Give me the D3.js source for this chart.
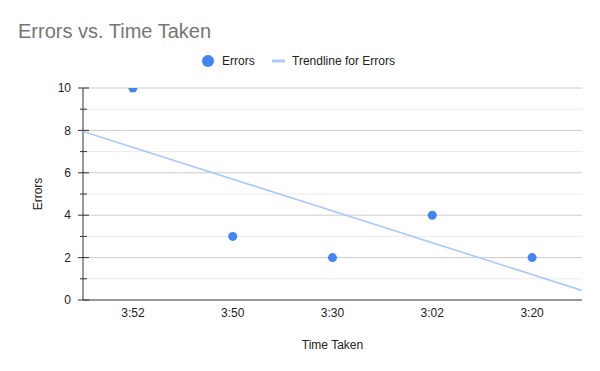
<!DOCTYPE html>
<html>
<head>
<meta charset="utf-8">
<script src="https://cdn.jsdelivr.net/npm/d3@7"></script>
<style>
  body { margin: 0; background: #fff; }
  svg { display: block; font-family: Arial, "Liberation Sans", sans-serif; }
</style>
</head>
<body>
<div id="chart"></div>
<script>
// data
const categories = ["3:52", "3:50", "3:30", "3:02", "3:20"];
const errors = [10, 3, 2, 4, 2];
const yTicks = [0, 2, 4, 6, 8, 10];

const W = 600, H = 371;
const margin = { top: 88, right: 18, bottom: 71, left: 83 };
const width = W - margin.left - margin.right;
const height = H - margin.top - margin.bottom;

const svg = d3.select("#chart").append("svg")
    .attr("width", W)
    .attr("height", H);

svg.append("rect").attr("width", W).attr("height", H).attr("fill", "#fff");

svg.append("defs").append("clipPath")
    .attr("id", "plot-clip")
    .append("rect")
    .attr("width", width)
    .attr("height", height);

const g = svg.append("g")
    .attr("transform", `translate(${margin.left},${margin.top})`);

const x = d3.scaleBand()
    .domain(categories)
    .range([0, width]);

const y = d3.scaleLinear()
    .domain([0, 10])
    .range([height, 0]);

// minor gridlines
const minor = d3.range(1, 10, 2);
g.selectAll(".minor")
    .data(minor)
    .join("line")
    .attr("x1", 0).attr("x2", width)
    .attr("y1", d => y(d)).attr("y2", d => y(d))
    .attr("stroke", "#ebebeb");

// major gridlines
g.selectAll(".major")
    .data(yTicks.filter(d => d > 0))
    .join("line")
    .attr("x1", 0).attr("x2", width)
    .attr("y1", d => y(d)).attr("y2", d => y(d))
    .attr("stroke", "#cccccc");

// y axis ticks (major + minor)
g.selectAll(".ytick-minor")
    .data(minor)
    .join("line")
    .attr("x1", -3).attr("x2", 4)
    .attr("y1", d => y(d)).attr("y2", d => y(d))
    .attr("stroke", "#333");

g.selectAll(".ytick")
    .data(yTicks)
    .join("line")
    .attr("x1", -5).attr("x2", 6)
    .attr("y1", d => y(d)).attr("y2", d => y(d))
    .attr("stroke", "#333");

g.selectAll(".ylabel")
    .data(yTicks)
    .join("text")
    .attr("x", -12)
    .attr("y", d => y(d))
    .attr("dy", "0.35em")
    .attr("text-anchor", "end")
    .attr("font-size", "12px")
    .attr("fill", "#222")
    .text(d => d);

// axis lines
g.append("line")
    .attr("x1", 0).attr("x2", 0)
    .attr("y1", 0).attr("y2", height)
    .attr("stroke", "#333");
g.append("line")
    .attr("x1", 0).attr("x2", width)
    .attr("y1", height).attr("y2", height)
    .attr("stroke", "#333");

// x labels
g.selectAll(".xlabel")
    .data(categories)
    .join("text")
    .attr("x", d => x(d) + x.bandwidth() / 2)
    .attr("y", height + 17)
    .attr("text-anchor", "middle")
    .attr("font-size", "12px")
    .attr("fill", "#222")
    .text(d => d);

const plot = g.append("g").attr("clip-path", "url(#plot-clip)");

// linear trendline over category index
const n = errors.length;
const mx = d3.mean(errors, (d, i) => i);
const my = d3.mean(errors);
const slope = d3.sum(errors, (d, i) => (i - mx) * (d - my)) / d3.sum(errors, (d, i) => (i - mx) ** 2);
const intercept = my - slope * mx;
const idxX = i => x(categories[0]) + x.bandwidth() / 2 + i * x.step();
const tStart = -0.5, tEnd = n - 0.5;

plot.append("line")
    .attr("x1", idxX(tStart)).attr("y1", y(intercept + slope * tStart))
    .attr("x2", idxX(tEnd)).attr("y2", y(intercept + slope * tEnd))
    .attr("stroke", "#a9c8fb")
    .attr("stroke-width", 1.6);

// points
plot.selectAll(".pt")
    .data(errors)
    .join("circle")
    .attr("cx", (d, i) => x(categories[i]) + x.bandwidth() / 2)
    .attr("cy", d => y(d))
    .attr("r", 4.5)
    .attr("fill", "#4285f4");

// title
svg.append("text")
    .attr("x", 18)
    .attr("y", 38)
    .attr("font-size", "20px")
    .attr("fill", "#757575")
    .text("Errors vs. Time Taken");

// axis titles
svg.append("text")
    .attr("x", margin.left + width / 2)
    .attr("y", 349)
    .attr("text-anchor", "middle")
    .attr("font-size", "12px")
    .attr("fill", "#222")
    .text("Time Taken");

svg.append("text")
    .attr("transform", `translate(42,${margin.top + height / 2}) rotate(-90)`)
    .attr("text-anchor", "middle")
    .attr("font-size", "12px")
    .attr("fill", "#222")
    .text("Errors");

// legend
const legend = svg.append("g");
legend.append("circle")
    .attr("cx", 208).attr("cy", 61).attr("r", 6)
    .attr("fill", "#4285f4");
legend.append("text")
    .attr("x", 222).attr("y", 61).attr("dy", "0.35em")
    .attr("font-size", "12px").attr("fill", "#222")
    .text("Errors");
legend.append("line")
    .attr("x1", 272).attr("x2", 285)
    .attr("y1", 61).attr("y2", 61)
    .attr("stroke", "#a9c8fb").attr("stroke-width", 3);
legend.append("text")
    .attr("x", 292).attr("y", 61).attr("dy", "0.35em")
    .attr("font-size", "12px").attr("fill", "#222")
    .text("Trendline for Errors");
</script>
</body>
</html>
